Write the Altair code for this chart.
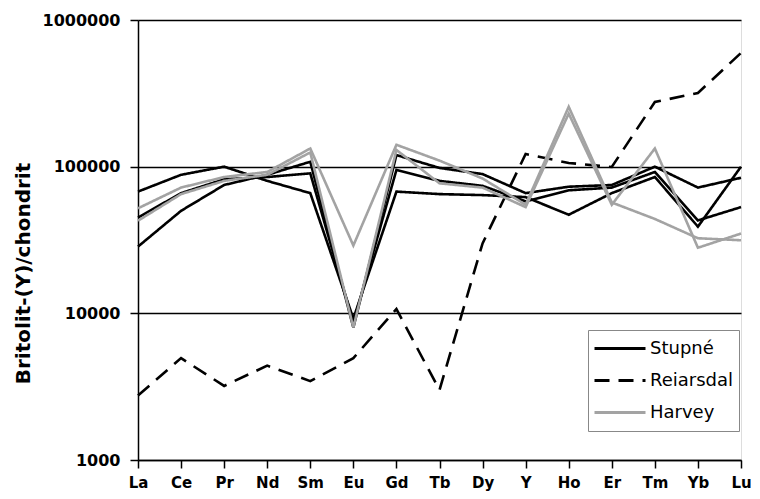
import altair as alt
import pandas as pd

elements = ["La", "Ce", "Pr", "Nd", "Sm", "Eu", "Gd", "Tb", "Dy", "Y", "Ho", "Er", "Tm", "Yb", "Lu"]

series_names = ["Stupné", "Reiarsdal", "Harvey"]

stupne_1 = [67600, 88000, 100000, 80000, 66000, 9200, 67600, 65000, 64000, 62000, 47000, 66000, 85000, 39000, 100000]
stupne_2 = [45000, 66000, 82000, 85000, 90000, 8600, 95000, 80000, 74000, 58000, 69000, 72000, 92000, 43000, 53000]
stupne_3 = [28500, 50000, 75000, 88000, 108000, 8000, 120000, 98000, 89000, 66000, 73000, 75000, 100000, 72000, 84000]
reiarsdal = [2750, 4950, 3200, 4400, 3450, 4950, 10700, 3000, 30000, 122000, 106000, 99500, 276000, 318000, 596000]
harvey_1 = [52000, 72000, 85000, 92000, 133000, 29000, 141000, 110000, 83000, 55000, 256000, 57000, 44000, 32500, 31500]
harvey_2 = [42800, 65000, 80000, 88000, 125000, 8000, 130000, 77000, 72000, 53000, 230000, 55000, 133000, 28000, 35000]

samples = [
    ("Stupné", "S1", stupne_1),
    ("Stupné", "S2", stupne_2),
    ("Stupné", "S3", stupne_3),
    ("Reiarsdal", "R1", reiarsdal),
    ("Harvey", "H1", harvey_1),
    ("Harvey", "H2", harvey_2),
]

rows = []
for order, (series, sample, values) in enumerate(samples):
    for el, v in zip(elements, values):
        rows.append({"series": series, "sample": sample, "element": el, "value": v, "order": order})
df = pd.DataFrame(rows)

legend = alt.Legend(
    title=None,
    orient="none",
    legendX=450,
    legendY=310,
    symbolType="stroke",
    symbolSize=2601,
    symbolStrokeWidth=3,
    clipHeight=27,
    rowPadding=5,
    labelFont="DejaVu Sans",
    labelFontSize=18,
    labelColor="#000000",
    labelOffset=3,
    padding=5,
    fillColor="#ffffff",
    strokeColor="#888888",
)

chart = (
    alt.Chart(df)
    .mark_line(strokeWidth=2.6)
    .encode(
        x=alt.X(
            "element:N",
            sort=elements,
            scale=alt.Scale(type="point", padding=0),
            axis=alt.Axis(
                title=None,
                labelAngle=0,
                labelFont="DejaVu Sans",
                labelFontWeight="bold",
                labelFontSize=15,
                labelColor="#000000",
                labelPadding=7,
                tickSize=8,
                tickColor="#000000",
                tickWidth=1.5,
                domainColor="#000000",
                domainWidth=1.5,
                grid=False,
            ),
        ),
        y=alt.Y(
            "value:Q",
            scale=alt.Scale(type="log", domain=[1000, 1000000]),
            axis=alt.Axis(
                title="Britolit-(Y)/chondrit",
                values=[1000, 10000, 100000, 1000000],
                format="d",
                labelFont="DejaVu Sans",
                labelFontWeight="bold",
                labelFontSize=16,
                labelColor="#000000",
                labelPadding=10,
                tickSize=8,
                tickColor="#000000",
                tickWidth=1.5,
                domainColor="#000000",
                domainWidth=1.5,
                grid=True,
                gridColor="#000000",
                gridWidth=1.3,
                titleFont="DejaVu Sans",
                titleFontWeight="bold",
                titleFontSize=20,
                titleColor="#000000",
                titleX=-115,
                titleY=253,
                titleAlign="center",
                titleBaseline="middle",
                titleAngle=270,
            ),
        ),
        color=alt.Color(
            "series:N",
            scale=alt.Scale(domain=series_names, range=["#000000", "#000000", "#a3a3a3"]),
            legend=legend,
        ),
        strokeDash=alt.StrokeDash(
            "series:N",
            scale=alt.Scale(domain=series_names, range=[[1, 0], [15, 9], [1, 0]]),
            legend=legend,
        ),
        detail="sample:N",
        order="order:Q",
    )
    .properties(
        width=603,
        height=440,
        autosize=alt.AutoSizeParams(type="none"),
        padding={"left": 130, "top": 12, "right": 10, "bottom": 35},
    )
    .configure_view(stroke="#000000", strokeWidth=1.5)
    .configure(background="#ffffff")
)

chart.save("out.html", embed_options={"renderer": "svg", "actions": False})
